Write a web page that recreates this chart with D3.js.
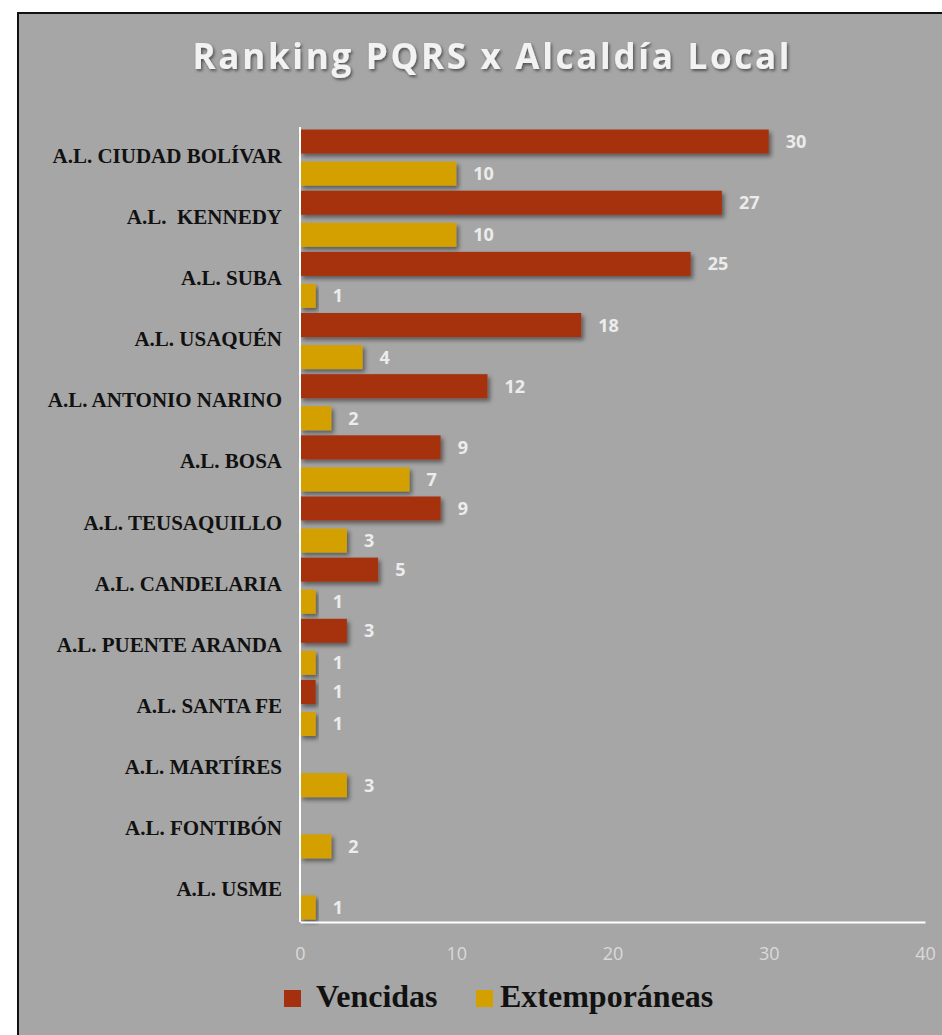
<!DOCTYPE html>
<html>
<head>
<meta charset="utf-8">
<script src="https://cdn.jsdelivr.net/npm/d3@7"></script>
<style>
  html, body { margin: 0; padding: 0; background: #ffffff; }
  svg { display: block; }
</style>
</head>
<body>
<svg id="chart"></svg>
<script>
// Chart data
const categories = [
  "A.L. CIUDAD BOLÍVAR", "A.L.  KENNEDY", "A.L. SUBA", "A.L. USAQUÉN",
  "A.L. ANTONIO NARINO", "A.L. BOSA", "A.L. TEUSAQUILLO", "A.L. CANDELARIA",
  "A.L. PUENTE ARANDA", "A.L. SANTA FE", "A.L. MARTÍRES", "A.L. FONTIBÓN", "A.L. USME"
];
const vencidas = [30, 27, 25, 18, 12, 9, 9, 5, 3, 1, null, null, null];
const extemporaneas = [10, 10, 1, 4, 2, 7, 3, 1, 1, 1, 3, 2, 1];
const seriesNames = ["Vencidas", "Extemporáneas"];
const seriesColors = ["#a5300f", "#d4a000"];
const xTicks = [0, 10, 20, 30, 40];

const width = 942;
const height = 1035;

const svg = d3.select("#chart")
  .attr("width", width)
  .attr("height", height);

const defs = svg.append("defs");
const shadow = defs.append("filter").attr("id", "shadow")
  .attr("x", "-10%").attr("y", "-30%").attr("width", "130%").attr("height", "180%");
shadow.append("feDropShadow")
  .attr("dx", 2.5).attr("dy", 3).attr("stdDeviation", 2)
  .attr("flood-color", "#000").attr("flood-opacity", 0.45);

const tshadow = defs.append("filter").attr("id", "tshadow")
  .attr("x", "-10%").attr("y", "-30%").attr("width", "120%").attr("height", "180%");
tshadow.append("feDropShadow")
  .attr("dx", 1.5).attr("dy", 2).attr("stdDeviation", 1.5)
  .attr("flood-color", "#000").attr("flood-opacity", 0.5);

// background panel with border (runs off the right and bottom edges)
svg.append("rect")
  .attr("x", 18).attr("y", 13)
  .attr("width", width + 20).attr("height", height + 20)
  .attr("fill", "#a6a6a6")
  .attr("stroke", "#111").attr("stroke-width", 2);

// title
svg.append("text")
  .attr("x", 491).attr("y", 69)
  .attr("text-anchor", "middle")
  .attr("font-family", "'Open Sans', sans-serif")
  .attr("font-weight", 700)
  .attr("font-size", 35)
  .attr("textLength", 597)
  .attr("lengthAdjust", "spacing")
  .attr("fill", "#f2f2f2")
  .attr("filter", "url(#tshadow)")
  .text("Ranking PQRS x Alcaldía Local");

const margin = { left: 300, right: 925, top: 127, bottom: 922 };

const x = d3.scaleLinear().domain([0, 40]).range([margin.left, margin.right]);
const y = d3.scaleBand().domain(categories).range([margin.top, margin.bottom]);
const ySub = d3.scaleBand().domain(seriesNames).range([0, y.bandwidth()])
  .paddingInner(0.25).paddingOuter(0.08);

// rows
const rows = categories.map((c, i) => ({ cat: c, values: [vencidas[i], extemporaneas[i]] }));

const groups = svg.selectAll(".row")
  .data(rows)
  .enter().append("g")
  .attr("class", "row")
  .attr("transform", d => `translate(0,${y(d.cat)})`);

const bars = groups.selectAll(".bar")
  .data(d => d.values.map((v, j) => ({ v: v, s: seriesNames[j], color: seriesColors[j] })).filter(e => e.v != null))
  .enter();

bars.append("rect")
  .attr("class", "bar")
  .attr("x", x(0))
  .attr("y", d => ySub(d.s))
  .attr("width", d => x(d.v) - x(0))
  .attr("height", ySub.bandwidth())
  .attr("fill", d => d.color)
  .attr("filter", "url(#shadow)");

bars.append("text")
  .attr("x", d => x(d.v) + 17)
  .attr("y", d => ySub(d.s) + ySub.bandwidth() / 2)
  .attr("dy", "0.36em")
  .attr("font-family", "'Open Sans', sans-serif")
  .attr("font-weight", 700)
  .attr("font-size", 18)
  .attr("fill", "#ececec")
  .text(d => d.v);

// category labels
svg.selectAll(".cat")
  .data(categories)
  .enter().append("text")
  .attr("class", "cat")
  .attr("x", 282)
  .attr("y", d => y(d) + y.bandwidth() / 2 + 5)
  .attr("text-anchor", "end")
  .attr("font-family", "'Liberation Serif', 'Times New Roman', serif")
  .attr("font-weight", 700)
  .attr("font-size", 21)
  .attr("fill", "#111")
  .style("white-space", "pre")
  .text(d => d);

// axes
const xAxis = svg.append("g")
  .attr("transform", `translate(0,${margin.bottom})`)
  .call(d3.axisBottom(x).tickValues(xTicks).tickSize(0).tickPadding(25));
xAxis.select(".domain").attr("stroke", "#ffffff").attr("stroke-width", 2);
xAxis.selectAll("text")
  .attr("font-family", "'Open Sans', sans-serif")
  .attr("font-size", 18)
  .attr("fill", "#dadada");

svg.append("line")
  .attr("x1", x(0)).attr("x2", x(0))
  .attr("y1", margin.top).attr("y2", margin.bottom)
  .attr("stroke", "#ffffff").attr("stroke-width", 2);

// legend
const legendX = [284, 476];
const legend = svg.selectAll(".legend")
  .data(seriesNames)
  .enter().append("g")
  .attr("class", "legend")
  .attr("transform", (d, i) => `translate(${legendX[i]},990)`);
legend.append("rect")
  .attr("width", 17).attr("height", 17)
  .attr("fill", (d, i) => seriesColors[i]);
legend.append("text")
  .attr("x", (d, i) => i === 0 ? 32 : 24)
  .attr("y", 17)
  .attr("font-family", "'Liberation Serif', 'Times New Roman', serif")
  .attr("font-weight", 700)
  .attr("font-size", 32)
  .attr("fill", "#111")
  .text(d => d);
</script>
</body>
</html>
